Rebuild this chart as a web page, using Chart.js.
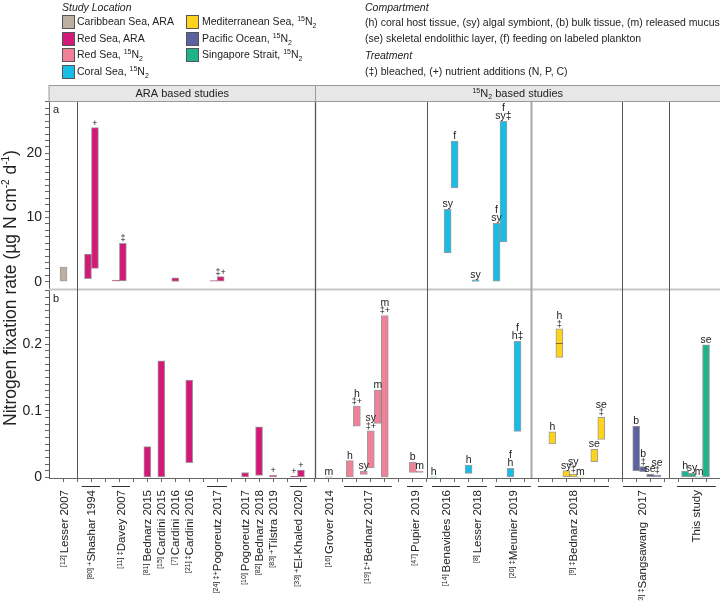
<!DOCTYPE html>
<html>
<head>
<meta charset="utf-8">
<script src="https://cdn.jsdelivr.net/npm/chart.js@4.4.1/dist/chart.umd.min.js"></script>
<style>
  html, body { margin: 0; padding: 0; background: #fff; }
  body { width: 720px; height: 601px; position: relative; overflow: hidden;
         font-family: "Liberation Sans", Arial, Helvetica, sans-serif; color: #222; }
  #chart { position: absolute; left: 0; top: 0; }
  .lg { position: absolute; font-size: 10.5px; line-height: 13px; white-space: nowrap; }
  .it { font-style: italic; }
  .sw { position: absolute; width: 11px; height: 12px; border: 1px solid #555; }
  sup, sub { font-size: 7px; line-height: 0; }
</style>
</head>
<body>
<canvas id="chart" width="720" height="601"></canvas>
<div id="legend"></div>
<script>
  // ===== Study locations =====
  const regions = ['Caribbean Sea, ARA', 'Red Sea, ARA', 'Red Sea, 15N2', 'Coral Sea, 15N2',
                   'Mediterranean Sea, 15N2', 'Pacific Ocean, 15N2', 'Singapore Strait, 15N2'];
  const regionColors = ['#bdb0a2', '#d31878', '#ef8199', '#18bde6', '#fdd31e', '#5b62a0', '#20b38b'];

  // ===== Panel a (ug N cm-2 d-1), floating bars low..high =====
  const aPos    = [0, 1.75, 2.25, 3.75, 4.25, 8, 10.75, 11.25, 27.5, 28, 29.5, 31, 31.5];
  const aLow    = [0, 0.5, 2.1, 0, 0.15, 0.05, 0, 0, 4.5, 14.6, 0.05, 0, 6.2];
  const aHigh   = [2.3, 4.3, 24.0, 0.25, 6.0, 0.6, 0.2, 0.8, 11.3, 21.9, 0.3, 9.1, 25.0];
  const aRegion = [0, 1, 1, 1, 1, 1, 1, 1, 3, 3, 3, 3, 3];
  const aNote   = [[], [], ['+'], [], ['‡'], [], [], ['‡+'], ['sy'], ['f'], ['sy'], ['f', 'sy'], ['f', 'sy‡']];

  // ===== Panel b =====
  const bPos    = [6, 7, 9, 13, 14, 15, 16.5, 17, 19, 20.5, 21, 21.5, 22, 22.5, 23, 25, 25.5, 26.5, 29, 32, 32.5,
                   35, 35.5, 36, 36.5, 37, 38, 38.5, 41, 41.5, 42, 42.5, 44.5, 45, 45.5, 46];
  const bLow    = [0, 0, 0.022, 0, 0.003, 0, 0, 0, 0, 0, 0.077, 0.0045, 0.0145, 0.081, 0, 0.0075, 0.0075, 0, 0.006, 0, 0.069,
                   0.05, 0.18, 0.001, 0, 0, 0.0235, 0.057, 0.0095, 0.0085, 0.001, 0, 0, 0, 0, 0];
  const bHigh   = [0.046, 0.175, 0.146, 0.007, 0.076, 0.003, 0.0015, 0.011, 0.0003, 0.025, 0.107, 0.009, 0.070, 0.131, 0.243,
                   0.0225, 0.0095, 0.0003, 0.0185, 0.0135, 0.204,
                   0.0685, 0.223, 0.010, 0.005, 0.0003, 0.042, 0.090, 0.077, 0.016, 0.005, 0.0035, 0.0095, 0.006, 0.0003, 0.199];
  const bRegion = [1, 1, 1, 1, 1, 1, 1, 1, 2, 2, 2, 2, 2, 2, 2, 2, 2, 3, 3, 3, 3,
                   4, 4, 4, 4, 4, 4, 4, 5, 5, 5, 5, 6, 6, 6, 6];
  const bMedian = { 22: 0.2015 };
  const bNote   = [[], [], [], [], [], ['+'], ['+'], ['+'], ['m'], ['h'], ['h', '‡+'], ['sy'], ['sy', '‡+'], ['m'], ['m', '‡+'],
                   ['b'], ['m'], ['h'], ['h'], ['f', 'h'], ['f', 'h‡'],
                   ['h'], ['h', '‡'], ['sy'], ['sy', '‡'], ['m'], ['se'], ['se', '‡'],
                   ['b'], ['b', '‡'], ['se'], ['se', '‡'], ['h'], ['sy'], ['m'], ['se']];

  // ===== Studies on the x axis =====
  const studyName = ['Lesser 2007', 'Shashar 1994', 'Davey 2007', 'Bednarz 2015', 'Cardini 2015', 'Cardini 2016',
                     'Cardini 2016', 'Pogoreutz 2017', 'Pogoreutz 2017', 'Bednarz 2018', 'Tilstra 2019', 'El-Khaled 2020',
                     'Grover 2014', 'Bednarz 2017', 'Pupier 2019', 'Benavides 2016', 'Lesser 2018', 'Meunier 2019',
                     'Bednarz 2018', 'Sangsawang  2017', 'This study'];
  const studyRef  = ['12', '80', '11', '81', '15', '7', '21', '24', '10', '82', '83', '33', '16', '19', '47', '14', '8', '20', '9', '23', ''];
  const studyMark = ['', '+', '‡', '', '', '', '‡', '‡+', '', '', '+', '+', '', '‡+', '', '', '', '‡', '‡', '‡', ''];
  const studyFrom = [0, 1.3, 3.45, 6, 7, 8, 9, 10.27, 13, 14, 15, 16.21, 19, 20.08, 24.59, 26.38, 28.88, 30.89, 33.96, 40.05, 43.91];
  const studyTo   = [0, 2.61, 4.76, 6, 7, 8, 9, 11.7, 13, 14, 15, 17.43, 19, 23.51, 25.73, 28.38, 30.31, 33.46, 39.05, 42.84, 46.7];
  const groupBreaks = [0.97, 18, 26, 33.5, 39.96, 43.37];
  const methodSplit = 18;

  const yaMajor = [0, 10, 20];
  const ybMajor = [0, 0.1, 0.2];

  const FONT = '"Liberation Sans", Arial, Helvetica, sans-serif';
  Chart.defaults.font.family = FONT;

  // ===== Legend (HTML) =====
  const legend = document.getElementById('legend');
  const fmt = s => s.replace('15N2', '<sup>15</sup>N<sub>2</sub>');
  function addText(html, left, top, cls) {
    const d = document.createElement('div');
    d.className = 'lg' + (cls ? ' ' + cls : '');
    d.style.left = left + 'px';
    d.style.top = top + 'px';
    d.innerHTML = html;
    legend.appendChild(d);
  }
  addText('Study Location', 62, 1, 'it');
  regions.forEach((r, i) => {
    const col = i < 4 ? 0 : 1;
    const row = i < 4 ? i : i - 4;
    const top = 15 + row * 16.5;
    const sw = document.createElement('div');
    sw.className = 'sw';
    sw.style.left = (col ? 186 : 62) + 'px';
    sw.style.top = top + 'px';
    sw.style.background = regionColors[i];
    legend.appendChild(sw);
    addText(fmt(r), col ? 202 : 77, top, '');
  });
  addText('Compartment', 365, 1, 'it');
  addText('(h) coral host tissue, (sy) algal symbiont, (b) bulk tissue, (m) released mucus', 365, 16, '');
  addText('(se) skeletal endolithic layer, (f) feeding on labeled plankton', 365, 32, '');
  addText('Treatment', 365, 49, 'it');
  addText('(‡) bleached, (+) nutrient additions (N, P, C)', 365, 65, '');

  // ===== helpers =====
  function richWidth(ctx, parts) {
    let w = 0;
    parts.forEach(p => { ctx.font = p.font; w += ctx.measureText(p.t).width; });
    return w;
  }
  function drawRich(ctx, parts, x, y) {
    parts.forEach(p => {
      ctx.font = p.font;
      ctx.fillText(p.t, x, y + (p.dy || 0));
      x += ctx.measureText(p.t).width;
    });
  }
  const f = (size, style) => (style ? style + ' ' : '') + size + 'px ' + FONT;

  function noteDraw(ctx, xs, ys, pos, high, notes) {
    ctx.textAlign = 'center';
    ctx.textBaseline = 'alphabetic';
    pos.forEach((p, i) => {
      const lines = notes[i];
      if (!lines.length) return;
      const px = xs.getPixelForValue(p);
      let base = ys.getPixelForValue(high[i]) - 2;
      for (let j = lines.length - 1; j >= 0; j--) {
        const onlySym = /^[‡+]+$/.test(lines[j]);
        ctx.font = f(onlySym ? 9 : 10.5);
        ctx.fillText(lines[j], px, base);
        base -= onlySym ? 7.5 : 8.5;
      }
    });
  }

  // ===== Decorations drawn on the canvas =====
  const decor = {
    id: 'decor',
    beforeDatasetsDraw(chart) {
      const { ctx, chartArea: ca, scales: { x, ya } } = chart;
      ctx.save();
      ctx.strokeStyle = '#c6c6c6';
      ctx.lineWidth = 2;
      ctx.beginPath();
      ctx.moveTo(ca.left, ya.bottom);
      ctx.lineTo(ca.right, ya.bottom);
      ctx.stroke();
      groupBreaks.forEach((g, i) => {
        const px = Math.round(x.getPixelForValue(g)) + 0.5;
        ctx.strokeStyle = i === 3 ? '#a8a8a8' : '#555';
        ctx.lineWidth = i === 3 ? 2 : (i === 1 ? 1.3 : 1);
        ctx.beginPath();
        ctx.moveTo(px, ca.top);
        ctx.lineTo(px, ca.bottom);
        ctx.stroke();
      });
      ctx.restore();
    },
    afterDatasetsDraw(chart) {
      const { ctx, scales: { x, ya, yb } } = chart;
      ctx.save();
      ctx.fillStyle = '#222';
      noteDraw(ctx, x, ya, aPos, aHigh, aNote);
      noteDraw(ctx, x, yb, bPos, bHigh, bNote);
      // median line inside box
      ctx.strokeStyle = 'rgba(110, 90, 40, 0.85)';
      ctx.lineWidth = 1;
      Object.keys(bMedian).forEach(k => {
        const px = x.getPixelForValue(bPos[k]);
        const py = Math.round(yb.getPixelForValue(bMedian[k])) + 0.5;
        ctx.beginPath();
        ctx.moveTo(px - 3.5, py);
        ctx.lineTo(px + 3.5, py);
        ctx.stroke();
      });
      ctx.restore();
    },
    afterDraw(chart) {
      const { ctx, chartArea: ca, scales: { x } } = chart;
      ctx.save();
      // header strips
      const split = Math.round(x.getPixelForValue(methodSplit)) + 0.5;
      const hTop = 85.5, hBot = Math.round(ca.top) + 0.5;
      ctx.fillStyle = '#e7e7e7';
      ctx.strokeStyle = '#9a9a9a';
      ctx.lineWidth = 1;
      [[ca.left, split], [split, ca.right + 1]].forEach(([l, r]) => {
        ctx.fillRect(l, hTop, r - l, hBot - hTop);
        ctx.strokeRect(l, hTop, r - l, hBot - hTop);
      });
      ctx.fillStyle = '#222';
      ctx.textAlign = 'left';
      ctx.textBaseline = 'alphabetic';
      let parts = [{ t: 'ARA based studies', font: f(11) }];
      let w = richWidth(ctx, parts);
      drawRich(ctx, parts, (ca.left + split) / 2 - w / 2, 97);
      parts = [{ t: '15', font: f(7), dy: -4 }, { t: 'N', font: f(11) }, { t: '2', font: f(7), dy: 2 },
               { t: ' based studies', font: f(11) }];
      w = richWidth(ctx, parts);
      drawRich(ctx, parts, (split + ca.right) / 2 - w / 2, 97);

      // panel letters
      ctx.font = f(11);
      ctx.fillText('a', 53, 113);
      ctx.fillText('b', 53, 302);

      // study labels and group underlines
      ctx.strokeStyle = '#333';
      ctx.lineWidth = 1;
      studyName.forEach((name, i) => {
        const l = x.getPixelForValue(studyFrom[i]);
        const r = x.getPixelForValue(studyTo[i]);
        if (studyTo[i] > studyFrom[i]) {
          ctx.beginPath();
          ctx.moveTo(l, 486.5);
          ctx.lineTo(r, 486.5);
          ctx.stroke();
        }
        const p = [];
        if (studyRef[i]) p.push({ t: '[' + studyRef[i] + '] ', font: f(7), dy: -3 });
        if (studyMark[i]) p.push({ t: studyMark[i], font: f(7.5), dy: -3 });
        p.push({ t: name, font: f(11.5) });
        ctx.save();
        ctx.translate((l + r) / 2, 490);
        ctx.rotate(-Math.PI / 2);
        drawRich(ctx, p, -richWidth(ctx, p), 4);
        ctx.restore();
      });

      // y title
      parts = [{ t: 'Nitrogen fixation rate (µg N cm', font: f(17.5) }, { t: '-2', font: f(10), dy: -7 },
               { t: ' d', font: f(17.5) }, { t: '-1', font: f(10), dy: -7 }, { t: ')', font: f(17.5) }];
      ctx.translate(16, 288);
      ctx.rotate(-Math.PI / 2);
      w = richWidth(ctx, parts);
      drawRich(ctx, parts, -w / 2, 0);
      ctx.restore();
    }
  };

  const toBars = (pos, low, high) => pos.map((p, i) => ({ x: p, y: [low[i], high[i]] }));
  const common = {
    borderColor: 'rgba(60, 60, 60, 0.5)',
    borderWidth: 1,
    borderSkipped: false,
    barThickness: 7,
    grouped: false
  };
  const range = (from, to, step) => { const out = []; for (let v = from; v <= to + 1e-9; v += step) out.push(Math.round(v / step) * step); return out; };

  const yTick = (majors) => ({
    autoSkip: false,
    padding: 3,
    color: '#222',
    font: { size: 14 },
    callback: v => (majors.some(m => Math.abs(m - v) < 1e-9) ? String(+v.toFixed(2)) : '')
  });

  new Chart(document.getElementById('chart').getContext('2d'), {
    type: 'bar',
    data: {
      datasets: [
        { label: 'a', data: toBars(aPos, aLow, aHigh), yAxisID: 'ya',
          backgroundColor: aRegion.map(r => regionColors[r]), ...common },
        { label: 'b', data: toBars(bPos, bLow, bHigh), yAxisID: 'yb',
          backgroundColor: bRegion.map(r => regionColors[r]), ...common }
      ]
    },
    options: {
      responsive: false,
      animation: false,
      events: [],
      layout: { padding: { top: 101, left: 0, right: 0, bottom: 0 } },
      plugins: { legend: { display: false }, tooltip: { enabled: false } },
      scales: {
        x: {
          type: 'linear', min: -1.04, max: 47, offset: false,
          afterBuildTicks: ax => { ax.ticks = range(0, 46, 1).map(v => ({ value: v })); },
          ticks: { display: false },
          grid: { offset: false, drawOnChartArea: false, drawTicks: true, tickLength: 4, color: '#666' },
          border: { color: '#666' },
          afterFit: ax => { ax.height = 123; }
        },
        // the first axis of a stack is laid out at the bottom
        yb: {
          type: 'linear', position: 'left', stack: 'panels', stackWeight: 1,
          min: -0.001, max: 0.282,
          afterBuildTicks: ax => { ax.ticks = range(0, 0.28, 0.01).map(v => ({ value: v })); },
          ticks: yTick(ybMajor),
          grid: { drawOnChartArea: false, drawTicks: true, tickLength: 4, color: '#666' },
          border: { color: '#555' },
          afterFit: ax => { ax.width = 49; }
        },
        ya: {
          type: 'linear', position: 'left', stack: 'panels', stackWeight: 1,
          min: -1.2, max: 28.15,
          afterBuildTicks: ax => { ax.ticks = range(0, 28, 1).map(v => ({ value: v })); },
          ticks: yTick(yaMajor),
          grid: { drawOnChartArea: false, drawTicks: true, tickLength: 4, color: '#666' },
          border: { color: '#555' },
          afterFit: ax => { ax.width = 49; }
        }
      }
    },
    plugins: [decor]
  });
</script>
</body>
</html>
